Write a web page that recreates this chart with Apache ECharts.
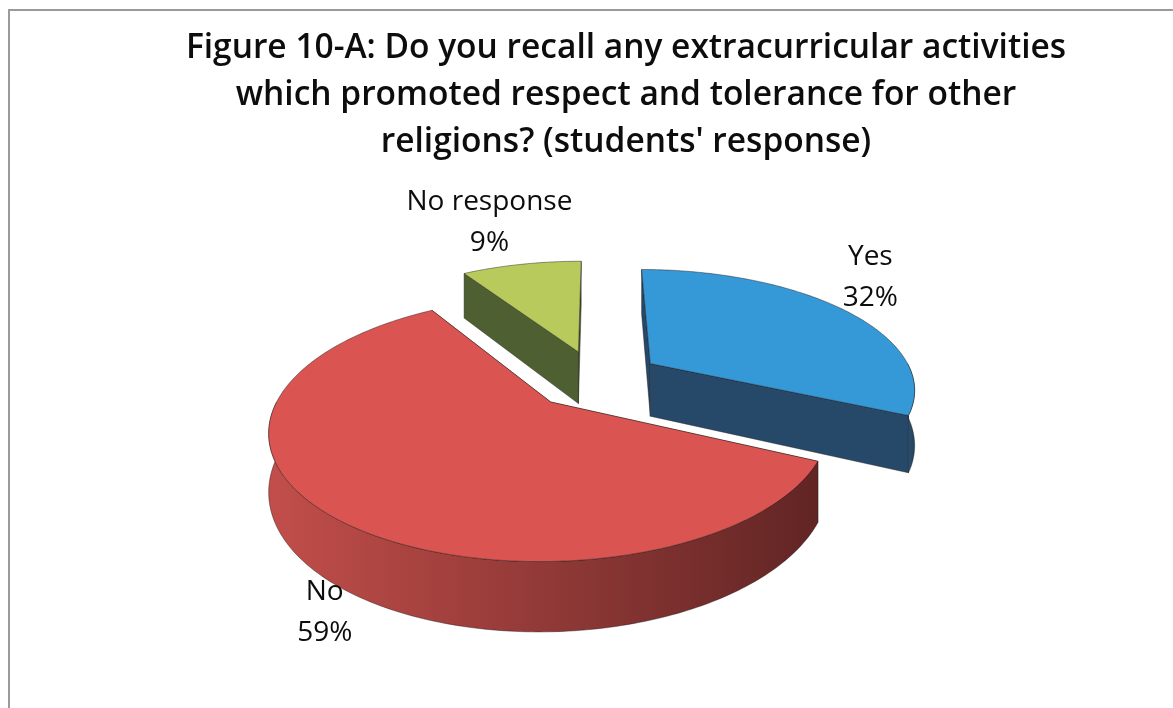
<!DOCTYPE html>
<html>
<head>
<meta charset="utf-8">
<script src="https://cdn.jsdelivr.net/npm/echarts@6/dist/echarts.min.js"></script>
<style>
  html, body { margin: 0; padding: 0; background: #ffffff; }
  #chart { width: 1173px; height: 708px; }
</style>
</head>
<body>
<div id="chart"></div>
<script>
// Survey answers, in clockwise order starting at 12 o'clock
const categories = ['Yes', 'No', 'No response'];
const shares = [32, 59, 9];

// Slice colours: top face, cut faces, rim gradient (light -> dark)
const topColors = ['#3499d6', '#da5551', '#b7ca5b'];
const sideColors = ['#26496a', '#8a3331', '#4e6031'];
const rimLight = ['#2a5274', '#c24e4a', '#5a6e38'];
const rimDark = ['#22425f', '#612524', '#44552a'];

// Label nudges (screen px) applied after the rim anchor
const labelNudge = [[28, -32], [-4, 32], [-32, -42]];

// 3-D pie geometry (screen px)
const PIE = {
  cx: 596, cy: 379,     // projected centre of the top face
  sx: 264, sy: 118,     // horizontal / vertical half-axes
  depth: 54,            // thickness of the pie
  dist: 5.11,           // viewing distance, in radii
  explode: 0.25         // slice offset, in radii
};

const total = shares.reduce((a, b) => a + b, 0);
const starts = [];
const ends = [];
let acc = 0;
shares.forEach(v => {
  starts.push(acc / total * 360);
  acc += v;
  ends.push(acc / total * 360);
});

const rad = d => d * Math.PI / 180;

// project a point of the disk plane (X right, w toward viewer) at height level h (0 top, 1 bottom)
function proj(X, w, h) {
  const p = PIE.dist / (PIE.dist - w);
  return [PIE.cx + p * X * PIE.sx, PIE.cy + p * (w * PIE.sy + h * PIE.depth)];
}
function rimPt(off, deg, h) {
  return proj(off.X + Math.sin(rad(deg)), off.w - Math.cos(rad(deg)), h);
}
function arc(off, a0, a1, h) {
  const pts = [];
  const n = Math.max(2, Math.ceil(Math.abs(a1 - a0)));
  for (let i = 0; i <= n; i++) pts.push(rimPt(off, a0 + (a1 - a0) * i / n, h));
  return pts;
}

// painter order of slices: farthest mid-angle first
const mids = starts.map((s, i) => (s + ends[i]) / 2);
const order = mids.map((m, i) => ({ i, w: -Math.cos(rad(m)) }))
  .sort((a, b) => a.w - b.w).map(o => o.i);

function renderSlice(params, api) {
  const i = params.dataIndex;
  const s = starts[i], e = ends[i], m = mids[i];
  const off = { X: PIE.explode * Math.sin(rad(m)), w: -PIE.explode * Math.cos(rad(m)) };
  const base = order.indexOf(i) * 10;
  const stroke = 'rgba(30,20,20,0.55)';
  const faces = [];

  // radial cut faces
  [s, e].forEach(a => {
    const pts = [proj(off.X, off.w, 0), rimPt(off, a, 0), rimPt(off, a, 1), proj(off.X, off.w, 1)];
    faces.push({
      w: off.w - 0.5 * Math.cos(rad(a)),
      el: { type: 'polygon', shape: { points: pts },
            style: { fill: sideColors[i], stroke: stroke, lineWidth: 0.8 } }
    });
  });

  // outer rim, front half only
  const r0 = Math.max(s, 90), r1 = Math.min(e, 270);
  if (r1 > r0) {
    const pts = arc(off, r0, r1, 0).concat(arc(off, r1, r0, 1));
    faces.push({
      w: 1,
      el: { type: 'polygon', shape: { points: pts },
            style: {
              fill: { type: 'linear', x: 0, y: 0, x2: 1, y2: 0,
                      colorStops: [{ offset: 0, color: rimLight[i] }, { offset: 1, color: rimDark[i] }] },
              stroke: stroke, lineWidth: 0.8 } }
    });
  }
  faces.sort((a, b) => a.w - b.w);

  const children = faces.map((f, k) => Object.assign(f.el, { z2: base + k }));

  // top face
  const topPts = [proj(off.X, off.w, 0)].concat(arc(off, s, e, 0));
  children.push({ type: 'polygon', shape: { points: topPts }, z2: base + 5,
                  style: { fill: topColors[i], stroke: stroke, lineWidth: 0.8 } });

  // label: rim point at mid angle (bottom edge for front slices), plus nudge
  const front = -Math.cos(rad(m)) > 0;
  const anchor = rimPt(off, m, front ? 1 : 0);
  children.push({
    type: 'text', z2: 100,
    x: anchor[0] + labelNudge[i][0], y: anchor[1] + labelNudge[i][1],
    style: {
      text: categories[i] + '\n' + api.value(0) + '%',
      align: 'center', verticalAlign: 'middle',
      fontFamily: 'Open Sans', fontSize: 28, lineHeight: 41, fill: '#0d0d0d'
    }
  });
  return { type: 'group', children: children };
}

const chart = echarts.init(document.getElementById('chart'), null, { renderer: 'canvas' });
chart.setOption({
  backgroundColor: '#ffffff',
  animation: false,
  title: {
    text: 'Figure 10-A: Do you recall any extracurricular activities\nwhich promoted respect and tolerance for other\nreligions? (students\' response)',
    left: 621, top: 20, textAlign: 'center',
    textStyle: { fontFamily: 'Open Sans', fontWeight: 600, fontSize: 33.5, lineHeight: 47, color: '#0d0d0d' }
  },
  graphic: [{
    type: 'rect', silent: true,
    shape: { x: 9, y: 10, width: 1300, height: 900 },
    style: { fill: 'none', stroke: '#9a9a9a', lineWidth: 2 }
  }],
  series: [{
    type: 'custom',
    coordinateSystem: 'none',
    renderItem: renderSlice,
    data: shares.map(v => [v])
  }]
});
</script>
</body>
</html>
